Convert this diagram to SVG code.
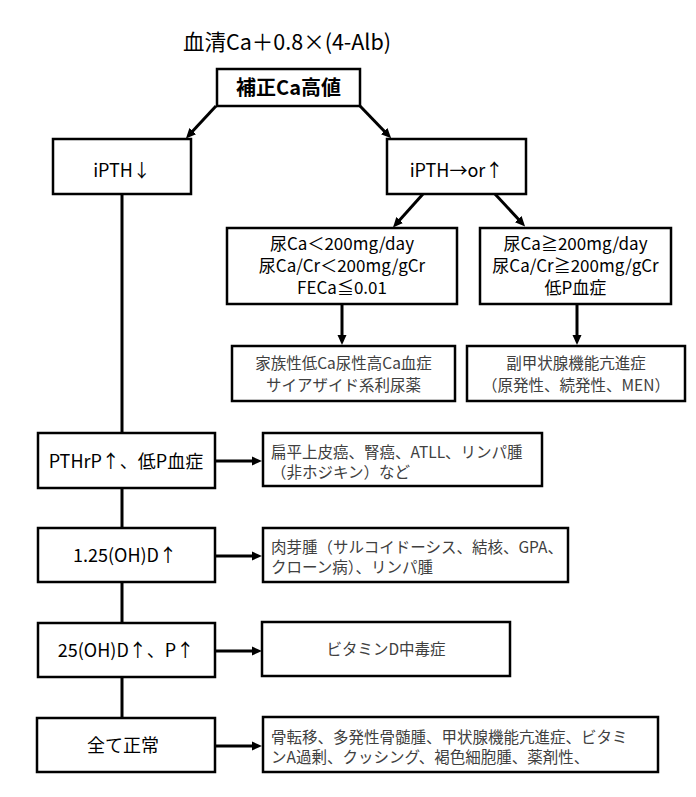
<svg xmlns="http://www.w3.org/2000/svg" width="696" height="797" viewBox="0 0 696 797">
<style>
text{font-family:"Noto Sans CJK JP","Noto Sans",sans-serif;fill:#000}
.box{fill:#fff;stroke:#000;stroke-width:2.5}
.conn{stroke:#000;stroke-width:3;fill:none}
.m{text-anchor:middle;font-size:18px}
.t{text-anchor:middle;font-size:17px}
.g{fill:#404040;font-size:15.5px}
.gm{fill:#404040;font-size:15.5px;text-anchor:middle}
</style>
<defs>
<marker id="ah" viewBox="0 0 10 10" refX="4" refY="5" markerWidth="10" markerHeight="10" markerUnits="userSpaceOnUse" orient="auto">
<path d="M0,0.5 L10,5 L0,9.5 z" fill="#000"/>
</marker>
</defs>
<rect width="696" height="797" fill="#fff"/>
<text x="287" y="50" text-anchor="middle" font-size="21.5">血清Ca＋0.8×(4-Alb)</text>
<g id="connectors">
<line class="conn" x1="122" y1="194" x2="122" y2="718"/>
<line class="conn" x1="216" y1="106" x2="190" y2="134" marker-end="url(#ah)"/>
<line class="conn" x1="360" y1="106" x2="387" y2="134" marker-end="url(#ah)"/>
<line class="conn" x1="423" y1="194" x2="397" y2="223" marker-end="url(#ah)"/>
<line class="conn" x1="495" y1="194" x2="521" y2="222" marker-end="url(#ah)"/>
<line class="conn" x1="342" y1="304" x2="342" y2="339" marker-end="url(#ah)"/>
<line class="conn" x1="577" y1="304" x2="577" y2="339" marker-end="url(#ah)"/>
<line class="conn" x1="215" y1="461" x2="256" y2="461" marker-end="url(#ah)"/>
<line class="conn" x1="215" y1="556" x2="256" y2="556" marker-end="url(#ah)"/>
<line class="conn" x1="215" y1="651" x2="256" y2="651" marker-end="url(#ah)"/>
<line class="conn" x1="215" y1="746" x2="256" y2="746" marker-end="url(#ah)"/>
</g>
<g id="top"><rect class="box" x="217" y="69" width="143" height="37"/><text x="288.5" y="95" text-anchor="middle" font-size="20" font-weight="bold">補正Ca高値</text></g>
<g id="ipth-low"><rect class="box" x="53" y="139" width="138" height="55"/><text class="m" x="122" y="177" font-size="20">iPTH↓</text></g>
<g id="ipth-high"><rect class="box" x="387" y="139" width="139" height="55"/><text class="m" x="456.5" y="177" font-size="20">iPTH→or↑</text></g>
<g id="mid-left"><rect class="box" x="227" y="228" width="230" height="76"/>
<text class="t" x="342" y="250">尿Ca＜200mg/day</text>
<text class="t" x="342" y="272">尿Ca/Cr＜200mg/gCr</text>
<text class="t" x="342" y="294">FECa≦0.01</text></g>
<g id="mid-right"><rect class="box" x="480" y="228" width="191" height="76"/>
<text class="t" x="575.5" y="250">尿Ca≧200mg/day</text>
<text class="t" x="575.5" y="272">尿Ca/Cr≧200mg/gCr</text>
<text class="t" x="575.5" y="294">低P血症</text></g>
<g id="fhh"><rect class="box" x="232" y="346" width="223" height="55"/>
<text class="gm" x="343.5" y="369">家族性低Ca尿性高Ca血症</text>
<text class="gm" x="343.5" y="391">サイアザイド系利尿薬</text></g>
<g id="hpt"><rect class="box" x="467" y="346" width="218" height="55"/>
<text class="gm" x="576" y="369">副甲状腺機能亢進症</text>
<text class="gm" x="576" y="391">（原発性、続発性、MEN）</text></g>
<g id="pthrp"><rect class="box" x="38" y="433" width="177" height="55"/><text class="m" x="126" y="468">PTHrP↑、低P血症</text></g>
<g id="pthrp-dx"><rect class="box" x="263" y="433" width="279" height="53"/>
<text class="g" x="271" y="458">扁平上皮癌、腎癌、ATLL、リンパ腫</text>
<text class="g" x="271" y="478">（非ホジキン）など</text></g>
<g id="calcitriol"><rect class="box" x="38" y="528" width="177" height="54"/><text class="m" x="125" y="562">1.25(OH)D↑</text></g>
<g id="calcitriol-dx"><rect class="box" x="263" y="528" width="305" height="54"/>
<text class="g" x="271" y="553">肉芽腫（サルコイドーシス、結核、GPA、</text>
<text class="g" x="271" y="573">クローン病）、リンパ腫</text></g>
<g id="calcidiol"><rect class="box" x="38" y="623" width="177" height="54"/><text class="m" x="126" y="657">25(OH)D↑、P↑</text></g>
<g id="calcidiol-dx"><rect class="box" x="262" y="622" width="248" height="54"/>
<text class="gm" x="386" y="655">ビタミンD中毒症</text></g>
<g id="normal"><rect class="box" x="37" y="718" width="178" height="54"/><text class="m" x="123" y="752" font-size="17.5" fill="#262626">全て正常</text></g>
<g id="normal-dx"><rect class="box" x="263" y="717" width="395" height="55"/>
<text class="g" x="271" y="743">骨転移、多発性骨髄腫、甲状腺機能亢進症、ビタミ</text>
<text class="g" x="271" y="763">ンA過剰、クッシング、褐色細胞腫、薬剤性、</text></g>
</svg>
